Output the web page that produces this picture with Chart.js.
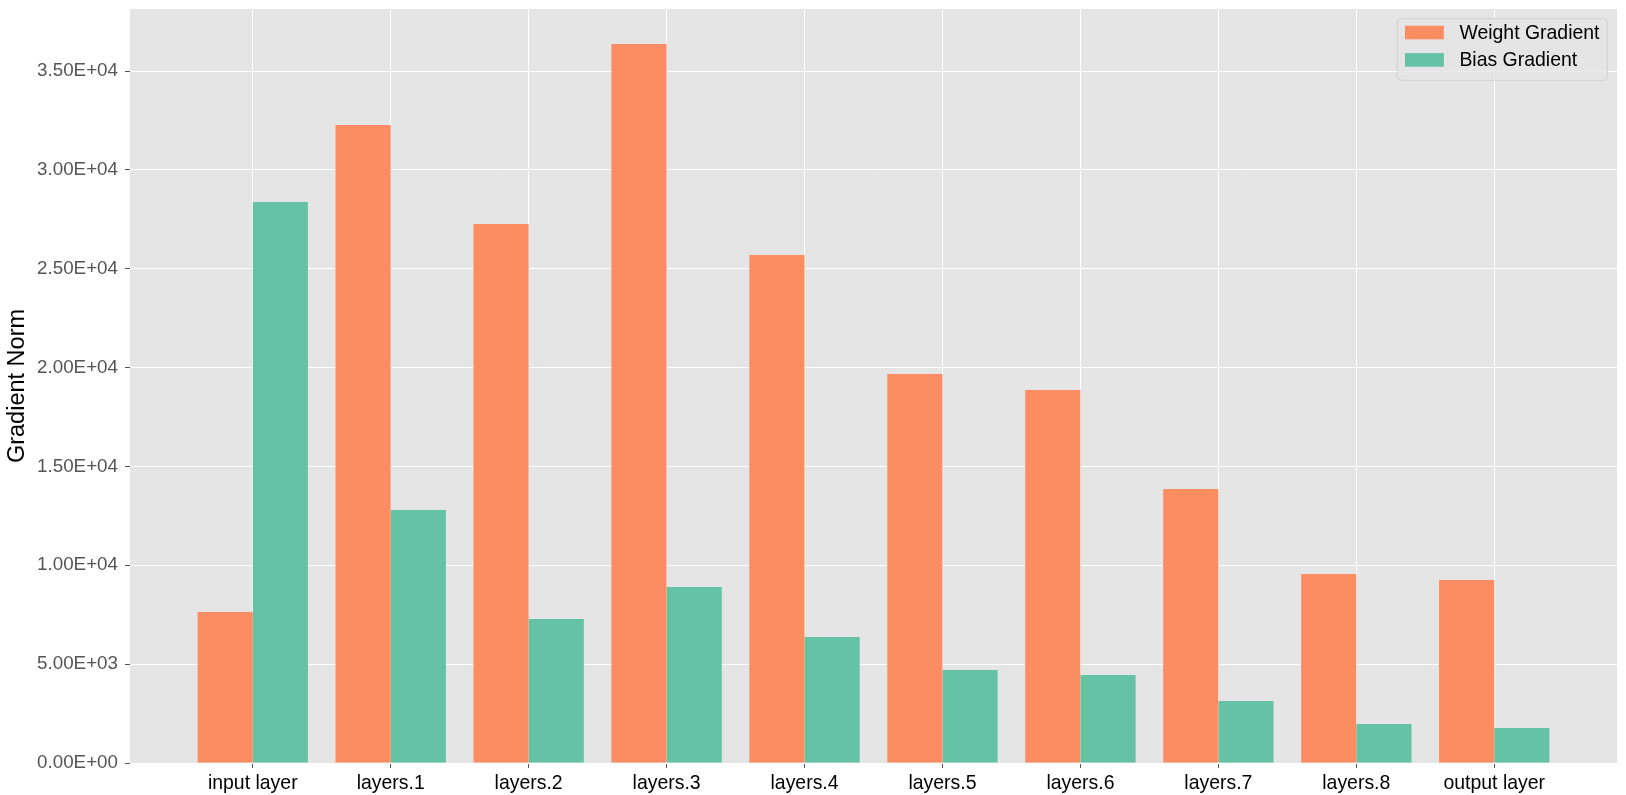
<!DOCTYPE html>
<html>
<head>
<meta charset="utf-8">
<script src="https://cdn.jsdelivr.net/npm/chart.js@4.4.1/dist/chart.umd.min.js"></script>
<style>
  html, body { margin: 0; padding: 0; background: #ffffff; }
  #wrap { width: 1626px; height: 795px; }
</style>
</head>
<body>
<div id="wrap"><canvas id="c" width="1626" height="795"></canvas></div>
<script>
const categories = ["input layer", "layers.1", "layers.2", "layers.3", "layers.4", "layers.5", "layers.6", "layers.7", "layers.8", "output layer"];
const weightGradient = [7640, 32270, 27270, 36370, 25700, 19680, 18870, 13860, 9560, 9260];
const biasGradient = [28380, 12800, 7280, 8900, 6370, 4700, 4450, 3140, 1970, 1770];
const yTickValues = [0, 5000, 10000, 15000, 20000, 25000, 30000, 35000];
const seriesLabels = ["Weight Gradient", "Bias Gradient"];
const seriesColors = ["#FC8D62", "#66C2A5"];

function sci(v) {
  const s = Number(v).toExponential(2).toUpperCase();
  const m = s.match(/^(-?[\d.]+)E([+-])(\d+)$/);
  if (!m) return s;
  return m[1] + "E" + m[2] + m[3].padStart(2, "0");
}

const bgPlugin = {
  id: "bg",
  beforeDraw(chart) {
    const { ctx, chartArea: a } = chart;
    ctx.save();
    ctx.fillStyle = "#ffffff";
    ctx.fillRect(0, 0, chart.width, chart.height);
    ctx.fillStyle = "#E5E5E5";
    ctx.fillRect(a.left, a.top, a.right - a.left, a.bottom - a.top);
    ctx.restore();
  }
};

const legendPlugin = {
  id: "mplLegend",
  afterDatasetsDraw(chart) {
    const { ctx, chartArea: a } = chart;
    const fs = 19.44;
    const pad = 0.5 * fs;
    const borderpad = 0.4 * fs;
    const handleLen = 2.0 * fs;
    const handleH = 0.7 * fs;
    const textPad = 0.8 * fs;
    ctx.save();
    ctx.font = fs + "px 'Liberation Sans', Arial, sans-serif";
    const ds = chart.data.datasets;
    let tw = 0;
    ds.forEach(d => { tw = Math.max(tw, ctx.measureText(d.label).width); });
    const w = borderpad * 2 + handleLen + textPad + tw;
    const rowGap = 27.4;
    const h = 61.6;
    const x0 = a.right - pad - w;
    const y0 = a.top + pad;
    const r = 4;
    ctx.beginPath();
    ctx.moveTo(x0 + r, y0);
    ctx.lineTo(x0 + w - r, y0);
    ctx.arcTo(x0 + w, y0, x0 + w, y0 + r, r);
    ctx.lineTo(x0 + w, y0 + h - r);
    ctx.arcTo(x0 + w, y0 + h, x0 + w - r, y0 + h, r);
    ctx.lineTo(x0 + r, y0 + h);
    ctx.arcTo(x0, y0 + h, x0, y0 + h - r, r);
    ctx.lineTo(x0, y0 + r);
    ctx.arcTo(x0, y0, x0 + r, y0, r);
    ctx.closePath();
    ctx.fillStyle = "rgba(229,229,229,0.8)";
    ctx.fill();
    ctx.strokeStyle = "rgba(204,204,204,0.8)";
    ctx.lineWidth = 1;
    ctx.stroke();
    ds.forEach((d, i) => {
      const cy = y0 + 13.8 + i * rowGap;
      ctx.fillStyle = d.backgroundColor;
      ctx.fillRect(x0 + borderpad, cy - handleH / 2, handleLen, handleH);
      ctx.fillStyle = "#000000";
      ctx.textBaseline = "middle";
      ctx.textAlign = "left";
      ctx.fillText(d.label, x0 + borderpad + handleLen + textPad, cy + 1);
    });
    ctx.restore();
  }
};

const series = [weightGradient, biasGradient];
const datasets = series.map((vals, k) => ({
  label: seriesLabels[k],
  data: categories.map((c, i) => ({ x: i, y: vals[i] })),
  backgroundColor: seriesColors[k],
  borderWidth: 0,
  categoryPercentage: 0.8,
  barPercentage: 1.0
}));

new Chart(document.getElementById("c"), {
  type: "bar",
  data: { datasets },
  options: {
    responsive: false,
    animation: false,
    events: [],
    layout: { padding: { left: 0, top: 9, right: 9, bottom: 0 } },
    plugins: { legend: { display: false }, tooltip: { enabled: false } },
    scales: {
      x: {
        type: "linear",
        min: -0.89,
        max: 9.89,
        offset: false,
        afterBuildTicks: s => { s.ticks = categories.map((c, i) => ({ value: i })); },
        afterFit: s => { s.height = 32; s.paddingLeft = 0; s.paddingRight = 0; },
        ticks: {
          autoSkip: false,
          maxRotation: 0,
          padding: 4,
          color: "#000000",
          font: { family: "'Liberation Sans', Arial, sans-serif", size: 19.44 },
          callback: v => categories[Math.round(v)] ?? ""
        },
        grid: { offset: false, color: "#ffffff", lineWidth: 1, tickColor: "#555555", tickLength: 5, drawTicks: true },
        border: { display: false }
      },
      y: {
        type: "linear",
        min: 0,
        max: 38140,
        afterBuildTicks: s => { s.ticks = yTickValues.map(v => ({ value: v })); },
        afterFit: s => { s.width = 130; s.paddingTop = 0; s.paddingBottom = 0; },
        ticks: {
          padding: 7,
          color: "#555555",
          font: { family: "'Liberation Sans', Arial, sans-serif", size: 18.8 },
          callback: v => sci(v)
        },
        grid: { color: "#ffffff", lineWidth: 1, tickColor: "#555555", tickLength: 5, drawTicks: true },
        border: { display: false },
        title: {
          display: true,
          text: "Gradient Norm",
          color: "#000000",
          padding: { top: 3, bottom: 0 },
          font: { family: "'Liberation Sans', Arial, sans-serif", size: 23.5 }
        }
      }
    }
  },
  plugins: [bgPlugin, legendPlugin]
});
</script>
</body>
</html>
